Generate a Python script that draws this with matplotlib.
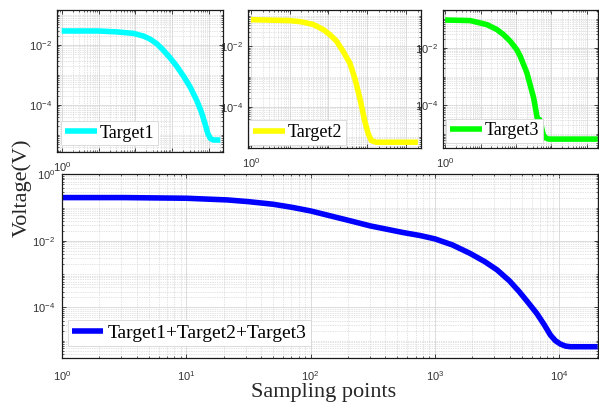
import matplotlib
matplotlib.use('Agg')
import matplotlib.pyplot as plt
import matplotlib.ticker as mticker

plt.rcParams['font.family'] = ['Liberation Sans', 'DejaVu Sans']
plt.rcParams['mathtext.default'] = 'regular'
plt.rcParams['axes.unicode_minus'] = False

# values
t1_x = [1, 10, 31.6, 89.1, 166, 251, 380, 575, 871, 1318, 1995, 3090, 4677, 6310,
        7943, 9333, 10965, 13183, 20400]
t1_y = [0.0295, 0.0295, 0.0275, 0.0245, 0.0200, 0.0158, 0.0112, 0.00676, 0.00380,
        0.00200, 9.55e-4, 3.98e-4, 1.41e-4, 5.62e-5, 2.24e-5, 1.12e-5, 7.59e-6,
        6.76e-6, 6.76e-6]

t2_x = [1, 10, 20, 40.7, 74.1, 110, 162, 240, 355, 479, 646, 871, 1072, 1288, 1738,
        20400]
t2_y = [0.0759, 0.0708, 0.0646, 0.0525, 0.0355, 0.0240, 0.0148, 0.00676, 0.00282,
        8.91e-4, 1.95e-4, 3.31e-5, 1.26e-5, 7.59e-6, 6.76e-6, 6.76e-6]

t3_x = [1, 5.13, 15.1, 28.8, 44.7, 69.2, 105, 132, 204, 316, 407, 468, 537, 589, 676,
        832, 20400]
t3_y = [0.0933, 0.0891, 0.0646, 0.0437, 0.0288, 0.0170, 0.00871, 0.00513, 0.00135,
        1.82e-4, 3.16e-5, 3.16e-5, 1.58e-5, 9.55e-6, 7.41e-6, 6.61e-6, 6.61e-6]

sum_x = [1, 3.16, 10, 21.4, 31.6, 50.1, 70.8, 100, 145, 200, 302, 398, 556, 759, 1000,
         1380, 1905, 2512, 3162, 3981, 4786, 5623, 6607, 7586, 8511, 9333, 10233,
         11220, 12303, 20400]
sum_y = [0.200, 0.200, 0.191, 0.170, 0.151, 0.126, 0.102, 0.0794, 0.0562, 0.0417,
         0.0282, 0.0229, 0.0178, 0.0145, 0.0115, 0.00759, 0.00427, 0.00240, 0.00135,
         6.31e-4, 2.95e-4, 1.41e-4, 6.61e-5, 3.02e-5, 1.48e-5, 1.0e-5, 7.94e-6,
         6.92e-6, 6.61e-6, 6.61e-6]

minor_pos = [m * 10.0 ** e for e in range(-7, 6) for m in range(1, 10)]


def style(ax, ymajor, xpad, ypad, only_first_x=False):
    ax.set_xscale('log')
    ax.set_yscale('log')
    ax.xaxis.set_major_locator(mticker.FixedLocator([1e0, 1e1, 1e2, 1e3, 1e4]))
    ax.yaxis.set_major_locator(mticker.FixedLocator(ymajor))
    ax.xaxis.set_minor_locator(mticker.FixedLocator(minor_pos))
    ax.yaxis.set_minor_locator(mticker.FixedLocator(minor_pos))
    ax.xaxis.set_minor_formatter(mticker.NullFormatter())
    ax.yaxis.set_minor_formatter(mticker.NullFormatter())
    if only_first_x:
        ax.xaxis.set_major_formatter(mticker.FuncFormatter(
            lambda v, p: '$10^{0}$' if abs(v - 1) < 1e-9 else ''))
    ax.tick_params(which='both', direction='in', top=True, right=True,
                   labelsize=8, labelcolor='#333333', color='#262626')
    ax.tick_params(which='major', length=3, width=0.6)
    ax.tick_params(which='minor', length=1.6, width=0.5)
    ax.tick_params(axis='x', pad=xpad)
    ax.tick_params(axis='y', pad=ypad)
    ax.grid(which='major', color='#dcdcdc', lw=0.7, ls='-')
    ax.grid(which='minor', color='#c8c8c8', lw=0.5, ls=(0, (1, 1.5)))
    ax.set_axisbelow(True)
    for s in ax.spines.values():
        s.set_linewidth(0.9)
        s.set_color('#1a1a1a')


def add_legend(ax, fs, anchor, hl, htp):
    leg = ax.legend(loc='lower left', bbox_to_anchor=anchor, borderaxespad=0,
                    prop={'family': 'Liberation Serif', 'size': fs},
                    handlelength=hl, handletextpad=htp, borderpad=0.2,
                    fancybox=False, framealpha=1, edgecolor='#d6d6d6')
    leg.get_frame().set_linewidth(0.6)


line_kw = dict(lw=4, solid_joinstyle='round', solid_capstyle='butt')

fig = plt.figure(figsize=(5.99, 4.07), dpi=100)

ax1 = fig.add_axes([0.0957, 0.6258, 0.2761, 0.3496])
ax1.plot(t1_x, t1_y, color=(0, 1, 1), label='Target1', **line_kw)
style(ax1, [1e-2, 1e-4], 6, 4, only_first_x=True)
ax1.set_xlim(10 ** -0.12, 10 ** 4.375)
ax1.set_ylim(10 ** -5.58, 10 ** -0.83)
add_legend(ax1, 13, (0.022, 0.05), 1.8, 0.15)

ax2 = fig.add_axes([0.4145, 0.6364, 0.2883, 0.3398])
ax2.plot(t2_x, t2_y, color=(1, 1, 0), label='Target2', **line_kw)
style(ax2, [1e-2, 1e-4], 6, 4, only_first_x=True)
ax2.set_xlim(10 ** -0.07, 10 ** 4.39)
ax2.set_ylim(10 ** -5.36, 10 ** -0.79)
add_legend(ax2, 13, (0.004, 0.024), 1.8, 0.15)

ax3 = fig.add_axes([0.7401, 0.6364, 0.2578, 0.3391])
ax3.plot(t3_x, t3_y, color=(0, 1, 0), label='Target3', **line_kw)
style(ax3, [1e-2, 1e-4], 6, 4, only_first_x=True)
ax3.set_xlim(10 ** -0.05, 10 ** 4.31)
ax3.set_ylim(10 ** -5.49, 10 ** -0.68)
add_legend(ax3, 13, (0.017, 0.036), 1.8, 0.15)

ax4 = fig.add_axes([0.1035, 0.1211, 0.8943, 0.4506])
ax4.plot(sum_x, sum_y, color=(0, 0, 1), label='Target1+Target2+Target3', **line_kw)
style(ax4, [1e0, 1e-2, 1e-4], 8, 5)
ax4.set_xlim(1, 10 ** 4.31)
ax4.set_ylim(10 ** -5.51, 1)
add_legend(ax4, 14, (0.0112, 0.065), 1.6, 0.25)

fig.text(324 / 599, 0.0253, 'Sampling points', family='Liberation Serif',
         fontsize=16, ha='center', va='baseline', color='#262626')
fig.text(0.0367, 0.538, 'Voltage(V)', family='Liberation Serif', fontsize=16,
         rotation=90, ha='center', va='center', color='#262626')

fig.savefig('out.png', dpi=100)
